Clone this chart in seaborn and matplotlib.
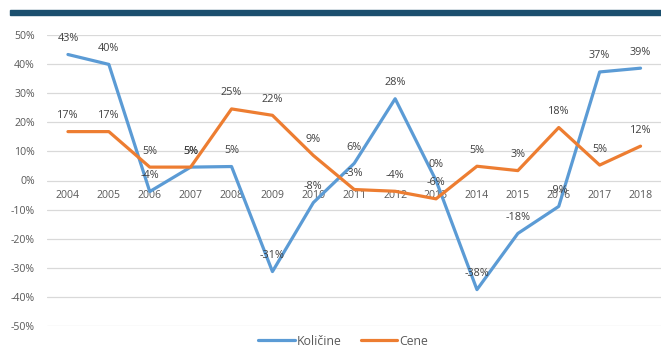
import matplotlib
matplotlib.use("Agg")
import matplotlib.pyplot as plt
import seaborn as sns
import pandas as pd
from matplotlib.patches import Rectangle
from matplotlib.ticker import FuncFormatter

years = [2004, 2005, 2006, 2007, 2008, 2009, 2010, 2011, 2012, 2013,
         2014, 2015, 2016, 2017, 2018]
kolicine = [43.3, 39.9, -3.8, 4.6, 4.8, -31.3, -7.6, 5.9, 28.1, 0.0,
            -37.5, -18.2, -8.9, 37.3, 38.6]
cene = [16.8, 16.8, 4.6, 4.6, 24.6, 22.4, 8.6, -3.1, -3.7, -6.3,
        4.9, 3.4, 18.2, 5.3, 11.8]
series_names = ["Količine", "Cene"]
colors = ["#5B9BD5", "#ED7D31"]
yticks = [50, 40, 30, 20, 10, 0, -10, -20, -30, -40, -50]

df = pd.DataFrame({
    "year": years * 2,
    "value": kolicine + cene,
    "series": [series_names[0]] * len(years) + [series_names[1]] * len(years),
})

sns.set_theme(style="white")
plt.rcParams["font.family"] = ["Open Sans", "DejaVu Sans"]

fig = plt.figure(figsize=(6.61, 3.49), dpi=100)
ax = fig.add_axes([47.5 / 661, 23 / 349, 1 - 47.5 / 661, 291 / 349])

sns.lineplot(data=df, x="year", y="value", hue="series",
             palette=dict(zip(series_names, colors)), linewidth=2.3,
             sort=False, ax=ax, legend=True)

ax.set_xlim(years[0] - 0.5, years[-1] + 0.5)
ax.set_ylim(-50, 50)
ax.set_yticks(yticks)
ax.yaxis.set_major_formatter(FuncFormatter(lambda v, p: f"{int(v)}%"))
ax.set_xticks(years)
ax.set_xticklabels([str(y) for y in years])
ax.set_xlabel("")
ax.set_ylabel("")
for y in yticks:
    ax.axhline(y, color="#D9D9D9", lw=0.9, zorder=0)
for s in ax.spines.values():
    s.set_visible(False)
ax.spines["bottom"].set_position(("data", 0))
ax.tick_params(axis="both", length=0, colors="#595959", labelsize=7.6)
ax.tick_params(axis="y", pad=9)
ax.tick_params(axis="x", pad=7)

for vals in (kolicine, cene):
    for x, v in zip(years, vals):
        ax.annotate(f"{round(v):.0f}%", (x, v), xytext=(0, 11.5),
                    textcoords="offset points", ha="center", va="center",
                    fontsize=7.8, color="#404040", annotation_clip=False)

leg = ax.legend(loc="center", bbox_to_anchor=(0.4817, -0.052),
                ncol=2, frameon=False, fontsize=8.8, handlelength=3.0,
                handletextpad=0.15, columnspacing=1.6, borderaxespad=0,
                borderpad=0)
for t in leg.get_texts():
    t.set_color("#595959")

fig.patches.append(Rectangle((10 / 661, 1 - 15 / 349), 1 - 10 / 661, 5 / 349,
                             transform=fig.transFigure, color="#1B4F6E",
                             zorder=5))

fig.savefig("out.png", dpi=100)
